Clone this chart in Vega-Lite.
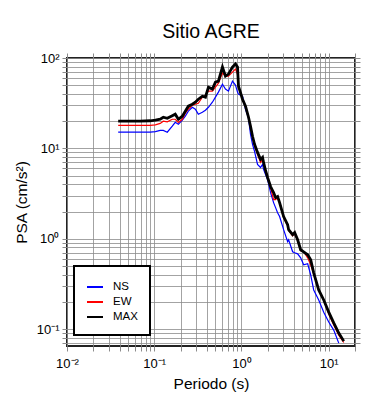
{
  "$schema": "https://vega.github.io/schema/vega-lite/v6.json",
  "width": 288,
  "height": 288,
  "autosize": {"type": "none"},
  "padding": {"left": 67, "top": 58, "right": 35, "bottom": 54},
  "background": "white",
  "title": {"text": "Sitio AGRE", "fontSize": 19.5, "fontWeight": "normal", "font": "Liberation Sans", "color": "black", "anchor": "middle", "offset": 10},
  "config": {
    "view": {"stroke": "#222222", "strokeWidth": 2},
    "font": "Liberation Sans",
    "legend": {"strokeWidth": 2}
  },
  "data": {"values": [
    {"T": 0.0386, "NS": 15.1, "EW": 18.0, "MAX": 20.0},
    {"T": 0.053, "NS": 15.1, "EW": 18.0, "MAX": 20.0},
    {"T": 0.069, "NS": 15.1, "EW": 18.0, "MAX": 20.0},
    {"T": 0.090, "NS": 15.1, "EW": 18.0, "MAX": 20.2},
    {"T": 0.103, "NS": 15.3, "EW": 18.2, "MAX": 20.5},
    {"T": 0.117, "NS": 15.8, "EW": 18.9, "MAX": 21.0},
    {"T": 0.127, "NS": 15.8, "EW": 20.0, "MAX": 22.1},
    {"T": 0.141, "NS": 15.1, "EW": 19.7, "MAX": 21.5},
    {"T": 0.161, "NS": 17.6, "EW": 21.0, "MAX": 23.0},
    {"T": 0.174, "NS": 19.4, "EW": 21.0, "MAX": 23.9},
    {"T": 0.189, "NS": 18.5, "EW": 19.4, "MAX": 21.0},
    {"T": 0.210, "NS": 20.5, "EW": 21.0, "MAX": 22.7},
    {"T": 0.227, "NS": 22.7, "EW": 24.5, "MAX": 25.8},
    {"T": 0.246, "NS": 25.8, "EW": 27.1, "MAX": 29.3},
    {"T": 0.273, "NS": 28.5, "EW": 30.0, "MAX": 30.8},
    {"T": 0.296, "NS": 27.1, "EW": 30.8, "MAX": 32.4},
    {"T": 0.320, "NS": 23.9, "EW": 31.6, "MAX": 35.0},
    {"T": 0.356, "NS": 25.1, "EW": 36.9, "MAX": 37.8},
    {"T": 0.386, "NS": 26.4, "EW": 38.8, "MAX": 36.9},
    {"T": 0.418, "NS": 28.5, "EW": 43.0, "MAX": 47.6},
    {"T": 0.464, "NS": 32.4, "EW": 43.0, "MAX": 45.3},
    {"T": 0.503, "NS": 36.9, "EW": 47.6, "MAX": 54.1},
    {"T": 0.544, "NS": 41.9, "EW": 52.7, "MAX": 55.5},
    {"T": 0.605, "NS": 51.4, "EW": 68.1, "MAX": 79.4},
    {"T": 0.655, "NS": 45.3, "EW": 63.1, "MAX": 63.1},
    {"T": 0.709, "NS": 43.0, "EW": 63.1, "MAX": 66.4},
    {"T": 0.788, "NS": 55.5, "EW": 69.9, "MAX": 79.4},
    {"T": 0.853, "NS": 50.1, "EW": 75.5, "MAX": 85.8},
    {"T": 0.900, "NS": 41.9, "EW": 66.4, "MAX": 79.4},
    {"T": 0.924, "NS": 39.8, "EW": 47.6, "MAX": 48.9},
    {"T": 1.027, "NS": 37.8, "EW": 35.0, "MAX": 35.0},
    {"T": 1.112, "NS": 27.1, "EW": 29.3, "MAX": 29.3},
    {"T": 1.204, "NS": 21.5, "EW": 22.1, "MAX": 22.1},
    {"T": 1.269, "NS": 14.3, "EW": 17.6, "MAX": 17.6},
    {"T": 1.338, "NS": 11.1, "EW": 13.6, "MAX": 13.6},
    {"T": 1.411, "NS": 9.26, "EW": 10.8, "MAX": 11.1},
    {"T": 1.527, "NS": 6.64, "EW": 8.58, "MAX": 9.03},
    {"T": 1.653, "NS": 6.15, "EW": 6.99, "MAX": 7.55},
    {"T": 1.743, "NS": 6.64, "EW": 7.55, "MAX": 7.94},
    {"T": 1.790, "NS": 5.85, "EW": 6.81, "MAX": 6.99},
    {"T": 1.887, "NS": 5.14, "EW": 5.69, "MAX": 5.69},
    {"T": 1.990, "NS": 4.53, "EW": 4.76, "MAX": 4.76},
    {"T": 2.154, "NS": 3.24, "EW": 3.69, "MAX": 3.78},
    {"T": 2.333, "NS": 2.51, "EW": 2.71, "MAX": 3.24},
    {"T": 2.459, "NS": 2.21, "EW": 2.71, "MAX": 2.85},
    {"T": 2.593, "NS": 1.94, "EW": 2.85, "MAX": 2.93},
    {"T": 2.734, "NS": 1.76, "EW": 2.51, "MAX": 2.51},
    {"T": 3.040, "NS": 1.26, "EW": 1.71, "MAX": 1.76},
    {"T": 3.379, "NS": 0.926, "EW": 1.39, "MAX": 1.43},
    {"T": 3.469, "NS": 0.975, "EW": 1.23, "MAX": 1.26},
    {"T": 3.856, "NS": 0.717, "EW": 1.08, "MAX": 1.11},
    {"T": 4.066, "NS": 0.699, "EW": 1.14, "MAX": 1.17},
    {"T": 4.402, "NS": 0.681, "EW": 0.95, "MAX": 0.975},
    {"T": 4.767, "NS": 0.615, "EW": 0.735, "MAX": 0.755},
    {"T": 5.160, "NS": 0.514, "EW": 0.717, "MAX": 0.717},
    {"T": 5.736, "NS": 0.528, "EW": 0.615, "MAX": 0.664},
    {"T": 6.211, "NS": 0.398, "EW": 0.514, "MAX": 0.585},
    {"T": 6.724, "NS": 0.271, "EW": 0.41, "MAX": 0.419},
    {"T": 7.675, "NS": 0.210, "EW": 0.271, "MAX": 0.271},
    {"T": 8.762, "NS": 0.154, "EW": 0.21, "MAX": 0.21},
    {"T": 10.0, "NS": 0.120, "EW": 0.147, "MAX": 0.154},
    {"T": 11.41, "NS": 0.0975, "EW": 0.111, "MAX": 0.117},
    {"T": 13.03, "NS": 0.0699, "EW": 0.0858, "MAX": 0.0903},
    {"T": 14.87, "NS": null, "EW": 0.071, "MAX": 0.0736}
  ]},
  "transform": [{"fold": ["NS", "EW", "MAX"], "as": ["comp", "psa"]}],
  "layer": [
    {
      "mark": {"type": "line", "clip": true},
      "encoding": {
        "x": {
          "field": "T", "type": "quantitative",
          "scale": {"type": "log", "domain": [0.01, 20], "nice": false},
          "axis": {
            "orient": "bottom", "title": "Periodo (s)", "titleFontSize": 15.5, "titleFontWeight": "normal", "titleColor": "black", "titlePadding": 6,
            "values": [0.01,0.02,0.03,0.04,0.05,0.06,0.07,0.08,0.09,0.1,0.2,0.3,0.4,0.5,0.6,0.7,0.8,0.9,1,2,3,4,5,6,7,8,9,10,20],
            "labelExpr": "datum.value == 0.01 ? '10⁻²' : datum.value == 0.1 ? '10⁻¹' : datum.value == 1 ? '10⁰' : datum.value == 10 ? '10¹' : ''",
            "labelFontSize": 13, "labelColor": "black", "labelFlush": false, "labelOverlap": false, "labelPadding": 6,
            "domain": false, "grid": true, "gridColor": "#8c8c8c", "gridWidth": 0.8, "gridOpacity": 1,
            "ticks": true, "tickColor": "#8c8c8c", "tickSize": 5
          }
        },
        "y": {
          "field": "psa", "type": "quantitative",
          "scale": {"type": "log", "domain": [0.065, 100], "nice": false},
          "axis": {
            "orient": "left", "title": "PSA (cm/s²)", "titleFontSize": 15.5, "titleFontWeight": "normal", "titleColor": "black", "titlePadding": 7,
            "values": [0.07,0.08,0.09,0.1,0.2,0.3,0.4,0.5,0.6,0.7,0.8,0.9,1,2,3,4,5,6,7,8,9,10,20,30,40,50,60,70,80,90,100],
            "labelExpr": "datum.value == 0.1 ? '10⁻¹' : datum.value == 1 ? '10⁰' : datum.value == 10 ? '10¹' : datum.value == 100 ? '10²' : ''",
            "labelFontSize": 13, "labelColor": "black", "labelFlush": false, "labelOverlap": false, "labelPadding": 3,
            "domain": false, "grid": true, "gridColor": "#8c8c8c", "gridWidth": 0.8, "gridOpacity": 1,
            "ticks": true, "tickColor": "#8c8c8c", "tickSize": 5
          }
        },
        "color": {
          "field": "comp", "type": "nominal",
          "scale": {"domain": ["NS", "EW", "MAX"], "range": ["#0000ff", "#ff0000", "#000000"]},
          "legend": {
            "orient": "none", "legendX": 7, "legendY": 208, "title": null,
            "strokeColor": "black", "fillColor": "white", "padding": 12,
            "symbolType": "stroke", "symbolStrokeWidth": 2, "symbolSize": 256,
            "labelFontSize": 11.5, "labelColor": "black", "labelOffset": 9, "rowPadding": 0
          }
        },
        "strokeWidth": {
          "condition": {"test": "datum.comp == 'MAX'", "value": 2.8},
          "value": 1.2
        }
      }
    },
    {
      "mark": {"type": "line", "opacity": 0},
      "encoding": {
        "x": {
          "field": "T", "type": "quantitative",
          "scale": {"type": "log", "domain": [0.01, 20], "nice": false},
          "axis": {"orient": "top", "title": null, "labels": false, "domain": false, "grid": false,
            "values": [0.01,0.02,0.03,0.04,0.05,0.06,0.07,0.08,0.09,0.1,0.2,0.3,0.4,0.5,0.6,0.7,0.8,0.9,1,2,3,4,5,6,7,8,9,10,20],
            "tickColor": "#8c8c8c", "tickSize": 5}
        },
        "y": {
          "field": "psa", "type": "quantitative",
          "scale": {"type": "log", "domain": [0.065, 100], "nice": false},
          "axis": {"orient": "right", "title": null, "labels": false, "domain": false, "grid": false,
            "values": [0.07,0.08,0.09,0.1,0.2,0.3,0.4,0.5,0.6,0.7,0.8,0.9,1,2,3,4,5,6,7,8,9,10,20,30,40,50,60,70,80,90,100],
            "tickColor": "#8c8c8c", "tickSize": 5}
        }
      }
    }
  ],
  "resolve": {"axis": {"x": "independent", "y": "independent"}}
}
